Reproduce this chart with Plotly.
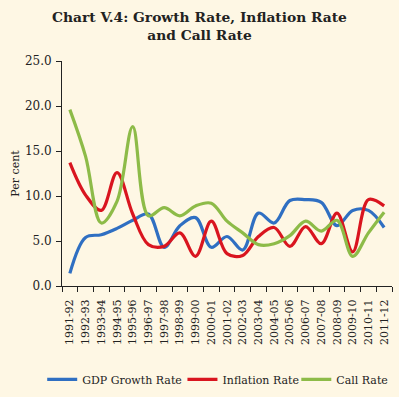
import plotly.graph_objects as go

years = ["1991-92", "1992-93", "1993-94", "1994-95", "1995-96", "1996-97", "1997-98",
         "1998-99", "1999-00", "2000-01", "2001-02", "2002-03", "2003-04", "2004-05",
         "2005-06", "2006-07", "2007-08", "2008-09", "2009-10", "2010-11", "2011-12"]
gdp_growth = [1.4, 5.4, 5.7, 6.4, 7.3, 8.0, 4.3, 6.7, 7.6, 4.3, 5.5, 4.0, 8.1, 7.0,
              9.5, 9.6, 9.3, 6.7, 8.4, 8.4, 6.5]
inflation = [13.7, 10.1, 8.4, 12.6, 8.0, 4.6, 4.4, 5.9, 3.3, 7.2, 3.6, 3.4, 5.5, 6.5,
             4.4, 6.6, 4.7, 8.1, 3.8, 9.6, 8.9]
call_rate = [19.6, 14.4, 7.0, 9.4, 17.7, 7.8, 8.7, 7.8, 8.9, 9.2, 7.2, 5.9, 4.6, 4.7,
             5.6, 7.2, 6.1, 7.3, 3.3, 5.9, 8.2]
y_ticks = [0, 5, 10, 15, 20, 25]

font_family = "DejaVu Serif"
bg = "#FEF7E4"
ink = "#222222"

series = [("GDP Growth Rate", gdp_growth, "#2F6FC2", "legend", -0.06),
          ("Inflation Rate", inflation, "#D9151F", "legend2", 0.365),
          ("Call Rate", call_rate, "#8DBB48", "legend3", 0.71)]

fig = go.Figure()
legend_cfg = {}
for name, vals, color, leg, lx in series:
    fig.add_trace(go.Scatter(x=years, y=vals, name=name, mode="lines", legend=leg,
                             line=dict(color=color, width=3.2, shape="spline", smoothing=1.0)))
    legend_cfg[leg] = dict(orientation="h", x=lx, xanchor="left", y=-0.415, yanchor="middle",
                           font=dict(family=font_family, size=11, color=ink),
                           bgcolor="rgba(0,0,0,0)", borderwidth=0)

fig.update_layout(
    width=399, height=397,
    paper_bgcolor=bg, plot_bgcolor=bg,
    margin=dict(l=62, r=7, t=61, b=111, autoexpand=False),
    font=dict(family=font_family, size=11, color=ink),
    title=dict(text="<b>Chart V.4: Growth Rate, Inflation Rate<br>and Call Rate</b>",
               x=0.5, xanchor="center", y=0.945, yanchor="top",
               font=dict(family=font_family, size=13.8, color=ink)),
    showlegend=True,
    **legend_cfg,
)
fig.update_xaxes(type="category", tickson="boundaries", ticks="outside", ticklen=5,
                 tickcolor=ink, showline=True, linecolor=ink, linewidth=1,
                 showgrid=False, tickangle=-90, tickfont=dict(size=11), automargin=False,
                 ticklabelstandoff=8, range=[-0.5, len(years) - 0.5])
fig.update_yaxes(range=[0, 25], tickvals=y_ticks, tickformat=".1f", ticks="outside",
                 ticklen=5, tickcolor=ink, showline=True, linecolor=ink, automargin=False,
                 linewidth=1, showgrid=False, zeroline=False, tickfont=dict(size=12),
                 ticklabelstandoff=2,
                 title=dict(text="Per cent", font=dict(size=11), standoff=3))

fig.write_html("out.html", config={"displayModeBar": False},
               post_script="document.body.style.margin='0';"
                           "document.body.style.background='%s';" % bg)
